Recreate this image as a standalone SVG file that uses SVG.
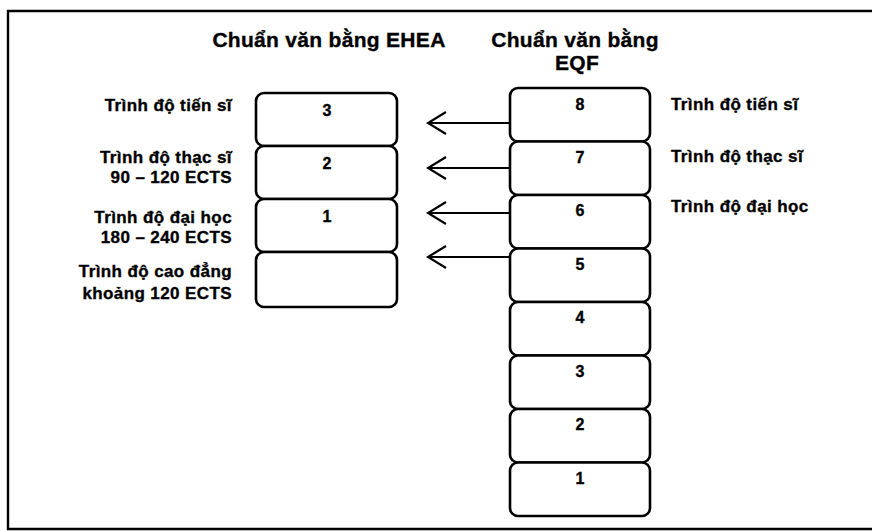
<svg xmlns="http://www.w3.org/2000/svg" width="872" height="531" viewBox="0 0 872 531">
  <style>
    text { font-family: "Liberation Sans", Arial, sans-serif; font-weight: bold; fill: #000; stroke: #000; stroke-width: 0.35; }
    .title { font-size: 21px; letter-spacing: 0.3px; }
    .lbl { font-size: 17px; letter-spacing: 0.4px; }
    .num { font-size: 16px; text-anchor: middle; }
    .box { fill: #fff; stroke: #000; stroke-width: 2.6; }
    .frame { fill: none; stroke: #000; stroke-width: 2.4; }
    .conn { fill: none; stroke: #000; stroke-width: 2; }
  </style>
  <defs>
    <marker id="openHead" markerUnits="userSpaceOnUse" viewBox="-20 -13 22 26" markerWidth="22" markerHeight="26" refX="0" refY="0" orient="auto">
      <path d="M-18,-11 L0,0 L-18,11" fill="none" stroke="#000" stroke-width="2.2"/>
    </marker>
  </defs>

  <rect width="872" height="531" fill="#fff"/>

  <!-- outer frame (right edge runs off the page) -->
  <path class="frame" d="M880,11 L8,11 L8,529 L880,529"/>

  <!-- column headings -->
  <text class="title" x="329" y="47" text-anchor="middle">Chuẩn văn bằng EHEA</text>
  <text class="title" x="575" y="47" text-anchor="middle">Chuẩn văn bằng</text>
  <text class="title" x="577" y="70" text-anchor="middle">EQF</text>

  <!-- EHEA levels -->
  <g id="ehea-3">
    <rect class="box" x="256" y="93" width="141" height="53" rx="8"/>
    <text class="num" x="327" y="116">3</text>
  </g>
  <g id="ehea-2">
    <rect class="box" x="256" y="146" width="141" height="53" rx="8"/>
    <text class="num" x="327" y="169">2</text>
  </g>
  <g id="ehea-1">
    <rect class="box" x="256" y="199" width="141" height="53" rx="8"/>
    <text class="num" x="327" y="222">1</text>
  </g>
  <g id="ehea-short">
    <rect class="box" x="256" y="252" width="141" height="55" rx="8"/>
  </g>

  <!-- EHEA labels -->
  <g id="ehea-labels" text-anchor="end">
    <text class="lbl" x="232" y="111">Trình độ tiến sĩ</text>
    <text class="lbl" x="232" y="163">Trình độ thạc sĩ</text>
    <text class="lbl" x="232" y="183">90 – 120 ECTS</text>
    <text class="lbl" x="232" y="223">Trình độ đại học</text>
    <text class="lbl" x="232" y="243">180 – 240 ECTS</text>
    <text class="lbl" x="232" y="277">Trình độ cao đẳng</text>
    <text class="lbl" x="232" y="299">khoảng 120 ECTS</text>
  </g>

  <!-- EQF levels -->
  <g id="eqf-8">
    <rect class="box" x="510" y="88" width="140" height="53.5" rx="8"/>
    <text class="num" x="580" y="110">8</text>
  </g>
  <g id="eqf-7">
    <rect class="box" x="510" y="141.5" width="140" height="53.5" rx="8"/>
    <text class="num" x="580" y="163">7</text>
  </g>
  <g id="eqf-6">
    <rect class="box" x="510" y="195" width="140" height="53.5" rx="8"/>
    <text class="num" x="580" y="216">6</text>
  </g>
  <g id="eqf-5">
    <rect class="box" x="510" y="248.5" width="140" height="53.5" rx="8"/>
    <text class="num" x="580" y="270">5</text>
  </g>
  <g id="eqf-4">
    <rect class="box" x="510" y="302" width="140" height="53.5" rx="8"/>
    <text class="num" x="580" y="323">4</text>
  </g>
  <g id="eqf-3">
    <rect class="box" x="510" y="355.5" width="140" height="53.5" rx="8"/>
    <text class="num" x="580" y="377">3</text>
  </g>
  <g id="eqf-2">
    <rect class="box" x="510" y="409" width="140" height="53.5" rx="8"/>
    <text class="num" x="580" y="430">2</text>
  </g>
  <g id="eqf-1">
    <rect class="box" x="510" y="462.5" width="140" height="53.5" rx="8"/>
    <text class="num" x="580" y="484">1</text>
  </g>

  <!-- EQF labels -->
  <g id="eqf-labels">
    <text class="lbl" x="671" y="110">Trình độ tiến sĩ</text>
    <text class="lbl" x="671" y="162">Trình độ thạc sĩ</text>
    <text class="lbl" x="671" y="212">Trình độ đại học</text>
  </g>

  <!-- correspondence arrows -->
  <g id="connectors">
    <path class="conn" d="M510,123 L428,123" marker-end="url(#openHead)"/>
    <path class="conn" d="M510,168 L428,168" marker-end="url(#openHead)"/>
    <path class="conn" d="M510,213 L428,213" marker-end="url(#openHead)"/>
    <path class="conn" d="M510,257 L428,257" marker-end="url(#openHead)"/>
  </g>
</svg>
